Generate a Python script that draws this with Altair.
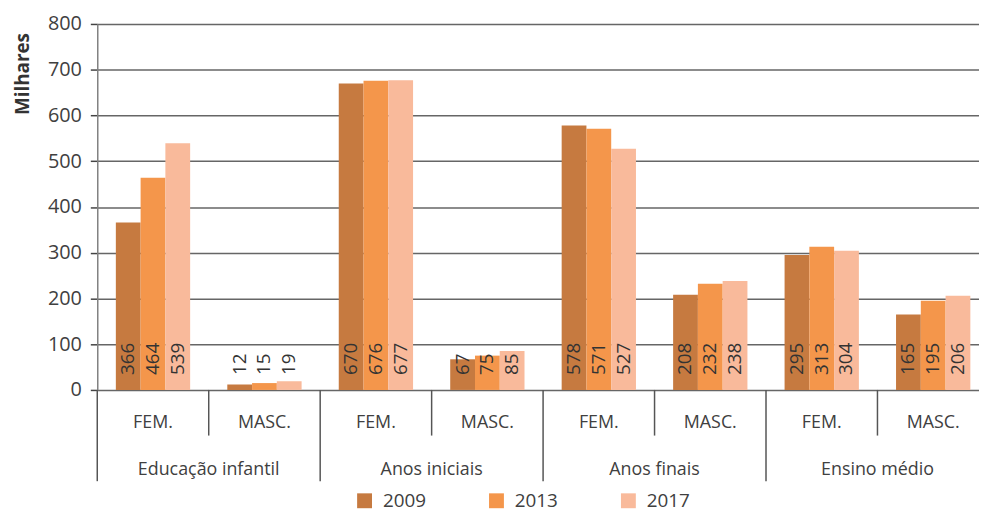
import altair as alt
import pandas as pd

levels = ["Educação infantil", "Anos iniciais", "Anos finais", "Ensino médio"]
genders = ["FEM.", "MASC."]
years = ["2009", "2013", "2017"]
colors = ["#C67A40", "#F4964B", "#F9BA9B"]

# values per (level, gender): [2009, 2013, 2017]
v_2009 = [366, 12, 670, 67, 578, 208, 295, 165]
v_2013 = [464, 15, 676, 75, 571, 232, 313, 195]
v_2017 = [539, 19, 677, 85, 527, 238, 304, 206]

groups = [f"{lv}|{g}" for lv in levels for g in genders]
rows = []
for i, grp in enumerate(groups):
    for y, vals in zip(years, [v_2009, v_2013, v_2017]):
        rows.append({"grp": grp, "year": y, "value": vals[i]})
df = pd.DataFrame(rows)

lev_df = pd.DataFrame({"grp": [f"{lv}|FEM." for lv in levels], "level": levels})
masc_df = pd.DataFrame({"grp": [f"{lv}|MASC." for lv in levels]})

W, H = 889, 369
FONT = "Open Sans"
TXT = "#404040"

xscale = alt.Scale(domain=groups, paddingInner=0, paddingOuter=0, range=[0, 899])

x_axis = alt.Axis(title=None, labelExpr="split(datum.value, '|')[1]",
                  labelAngle=0, ticks=False, domain=False, grid=False,
                  labelFontSize=18, labelColor=TXT, labelPadding=24,
                  labelFont=FONT)
y_axis = alt.Axis(values=list(range(0, 801, 100)), grid=True,
                  gridColor="#666666", gridWidth=1.5,
                  domainColor="#808080", domainWidth=1.5,
                  tickColor="#444444", tickSize=7, tickWidth=1.5,
                  labelFontSize=20, labelColor=TXT, labelPadding=9,
                  labelFont=FONT,
                  title="Milhares", titleFontSize=19, titleFontWeight="bold",
                  titleColor="#333333", titleFont=FONT,
                  titleX=-75, titleY=50, titleAlign="center",
                  titleBaseline="middle", titleAngle=-90)
yscale = alt.Scale(domain=[0, 800])

base = alt.Chart(df)

bars = base.mark_bar().encode(
    x=alt.X("grp:N", scale=xscale, sort=groups, axis=x_axis),
    xOffset=alt.XOffset("year:N", scale=alt.Scale(paddingOuter=0.75, paddingInner=0)),
    y=alt.Y("value:Q", scale=yscale, axis=y_axis),
    color=alt.Color("year:N", scale=alt.Scale(domain=years, range=colors),
                    legend=alt.Legend(title=None, orient="none", direction="horizontal",
                                      legendX=260, legendY=471, symbolType="square",
                                      symbolSize=225, symbolStrokeWidth=0,
                                      labelFontSize=19, labelColor=TXT, labelFont=FONT,
                                      labelOffset=9, columnPadding=61, padding=0)),
)

labels = base.mark_text(angle=270, align="left", baseline="middle", dx=15,
                        fontSize=19, color="#333333", font=FONT).encode(
    x=alt.X("grp:N", scale=xscale, sort=groups, axis=x_axis),
    xOffset=alt.XOffset("year:N"),
    y=alt.Y("zero:Q", scale=yscale, axis=y_axis),
    text="value:Q",
).transform_calculate(zero="0")

major = alt.Chart(lev_df).mark_rule(color="#555555", strokeWidth=1.5).encode(
    x=alt.X("grp:N", scale=xscale, sort=groups, bandPosition=0, axis=x_axis),
    y=alt.value(H), y2=alt.value(H + 92),
)
minor = alt.Chart(masc_df).mark_rule(color="#555555", strokeWidth=1.5).encode(
    x=alt.X("grp:N", scale=xscale, sort=groups, bandPosition=0, axis=x_axis),
    y=alt.value(H), y2=alt.value(H + 46),
)
level_text = alt.Chart(lev_df).mark_text(fontSize=18, color=TXT, font=FONT,
                                         baseline="middle").encode(
    x=alt.X("grp:N", scale=xscale, sort=groups, bandPosition=1, axis=x_axis),
    y=alt.value(H + 81),
    text="level:N",
)

chart = alt.layer(bars, labels, major, minor, level_text).properties(
    width=W, height=H,
    autosize=alt.AutoSizeParams(type="none"),
    padding={"left": 90, "top": 14, "right": 0, "bottom": 123},
).configure(font=FONT).configure_view(stroke=None)

chart.save("out.html", embed_options={"renderer": "svg", "actions": False})
